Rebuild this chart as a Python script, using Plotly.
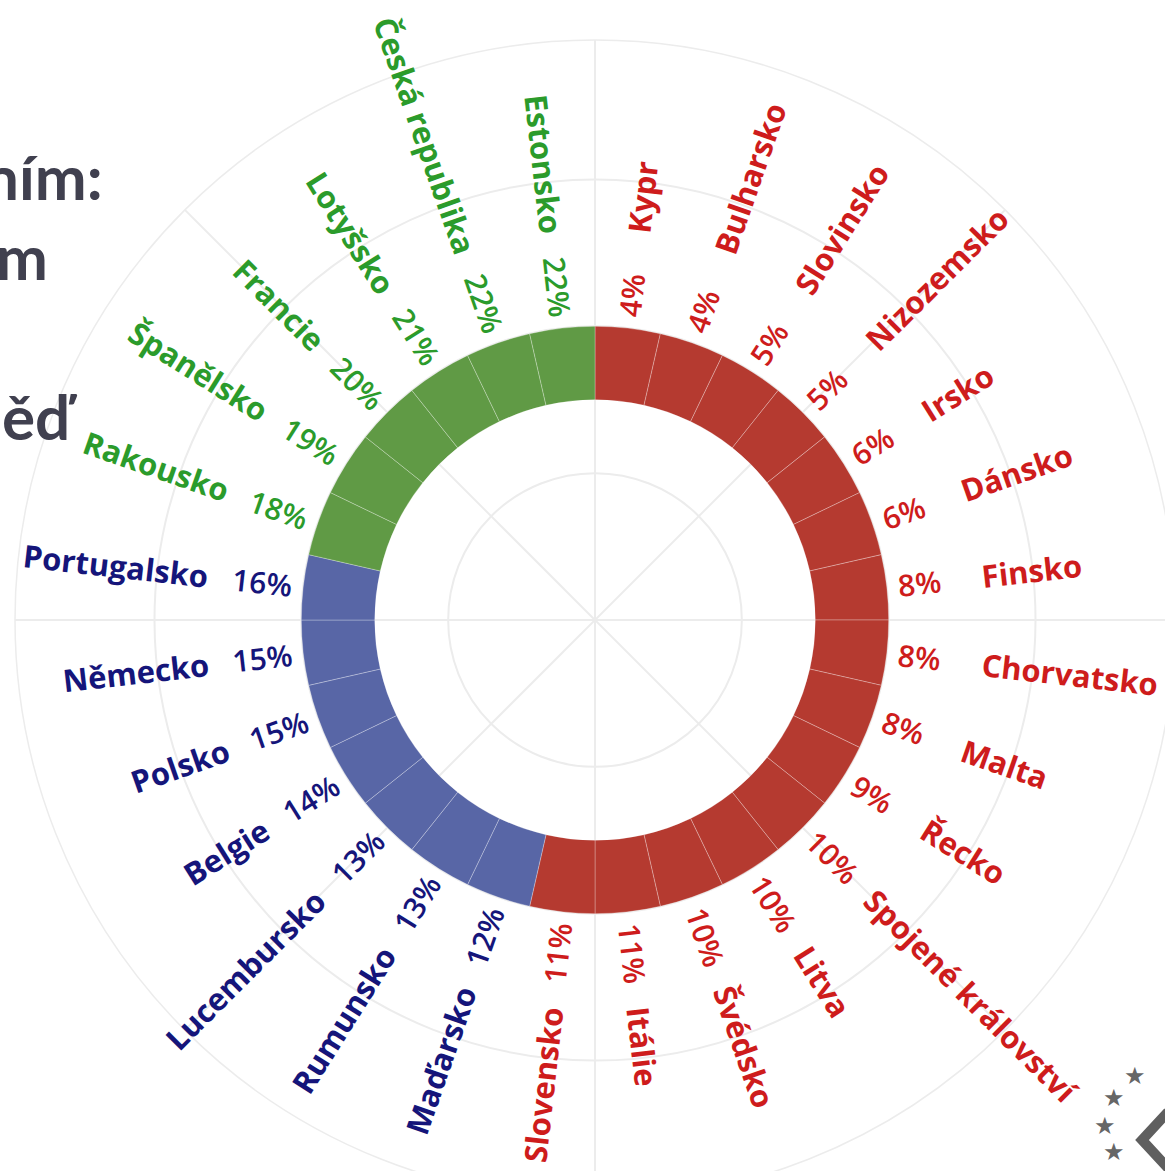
import math
import plotly.graph_objects as go

# ---------------- data ----------------
countries = ["Kypr", "Bulharsko", "Slovinsko", "Nizozemsko", "Irsko", "Dánsko",
             "Finsko", "Chorvatsko", "Malta", "Řecko", "Spojené království",
             "Litva", "Švédsko", "Itálie", "Slovensko", "Maďarsko", "Rumunsko",
             "Lucembursko", "Belgie", "Polsko", "Německo", "Portugalsko",
             "Rakousko", "Španělsko", "Francie", "Lotyšsko", "Česká republika",
             "Estonsko"]
values = [4, 4, 5, 5, 6, 6, 8, 8, 8, 9, 10, 10, 10, 11, 11,
          12, 13, 13, 14, 15, 15, 16,
          18, 19, 20, 21, 22, 22]
groups = ["low"] * 15 + ["mid"] * 7 + ["high"] * 6

ring_colors = {"low": "#B53A30", "mid": "#5866A6", "high": "#609A45"}
text_colors = {"low": "#CE1C1C", "mid": "#15157A", "high": "#2B9B2B"}

# ---------------- geometry ----------------
W, H = 1190, 1215
CX, CY = 595, 620          # centre of the polar subplot (px)
RADIUS = 580               # px radius of the polar subplot
RMAX = 3.95                # radial range max
PPU = RADIUS / RMAX        # px per radial unit
RING_BASE, RING_W = 1.5, 0.5
PCT_R, NAME_R = 2.08, 2.65
PCT_SIZE, NAME_SIZE = 30, 31

n = len(countries)
step = 360.0 / n
thetas = [(i + 0.5) * step for i in range(n)]

fig = go.Figure()
fig.add_trace(go.Barpolar(
    r=[RING_W] * n,
    base=[RING_BASE] * n,
    theta=thetas,
    width=[step] * n,
    marker=dict(color=[ring_colors[g] for g in groups],
                line=dict(color="rgba(255,255,255,0.35)", width=0.8)),
    text=[f"{c} {v}%" for c, v in zip(countries, values)],
    hoverinfo="text",
    showlegend=False,
))


def to_paper(r, phi):
    px = CX + r * PPU * math.sin(math.radians(phi))
    py = CY - r * PPU * math.cos(math.radians(phi))
    return px / W, 1 - py / H


HID = '<span style="color:rgba(0,0,0,0)">{}</span>'
annotations = []
for c, v, g, phi in zip(countries, values, groups, thetas):
    col = text_colors[g]
    pct = f"{v}%"
    right = phi < 180
    angle = phi - 90 if right else phi - 270
    for r, txt, wgt, sz in ((PCT_R, pct, 600, PCT_SIZE), (NAME_R, c, 700, NAME_SIZE)):
        full = HID.format(txt) + txt if right else txt + HID.format(txt)
        x, y = to_paper(r, phi)
        annotations.append(dict(
            x=x, y=y, xref="paper", yref="paper", text=full, showarrow=False,
            textangle=angle, xanchor="center", yanchor="middle",
            font=dict(family="Open Sans", size=sz, color=col, weight=wgt)))

# cropped slide text on the left
for txt, xr, yc in (("ním:", 105, 176), ("m", 50, 256), ("ěď", 80, 416)):
    annotations.append(dict(
        x=xr / W, y=1 - yc / H, xref="paper", yref="paper", text=txt,
        showarrow=False, xanchor="right", yanchor="middle",
        font=dict(family="Lato", size=62, color="#40404F", weight=700)))

# logo stars (decoration)
for sx, sy in ((1148, 1092), (1127, 1114), (1118, 1142), (1127, 1168)):
    annotations.append(dict(
        x=sx / W, y=1 - sy / H, xref="paper", yref="paper", text="★",
        showarrow=False, font=dict(family="DejaVu Sans", size=24, color="#666666")))

shapes = [dict(type="path", xref="paper", yref="paper",
               path=f"M {1168/W} {1 - 1112/H} L {1142/W} {1 - 1140/H} L {1168/W} {1 - 1168/H}",
               line=dict(color="#5f5f5f", width=10))]

fig.update_layout(
    width=W, height=H,
    margin=dict(l=0, r=0, t=0, b=0),
    paper_bgcolor="white",
    polar=dict(
        domain=dict(x=[(CX - RADIUS) / W, (CX + RADIUS) / W],
                    y=[1 - (CY + RADIUS) / H, 1 - (CY - RADIUS) / H]),
        bgcolor="white",
        radialaxis=dict(range=[0, RMAX], tickvals=[1, 2, 3], showticklabels=False,
                        ticks="", showline=False, gridcolor="#ececec", gridwidth=1.5),
        angularaxis=dict(rotation=90, direction="clockwise",
                         tickvals=[0, 45, 90, 135, 180, 225, 270, 315],
                         showticklabels=False, ticks="", showline=True,
                         linecolor="#ececec", linewidth=1.5,
                         gridcolor="#ececec", gridwidth=1.5),
    ),
    annotations=annotations,
    shapes=shapes,
)

fig.write_html("out.html", config={"displayModeBar": False}, post_script=(
    "document.body.style.margin='0';"
    "document.body.style.overflow='hidden';"
    "document.documentElement.style.overflow='hidden';"))
